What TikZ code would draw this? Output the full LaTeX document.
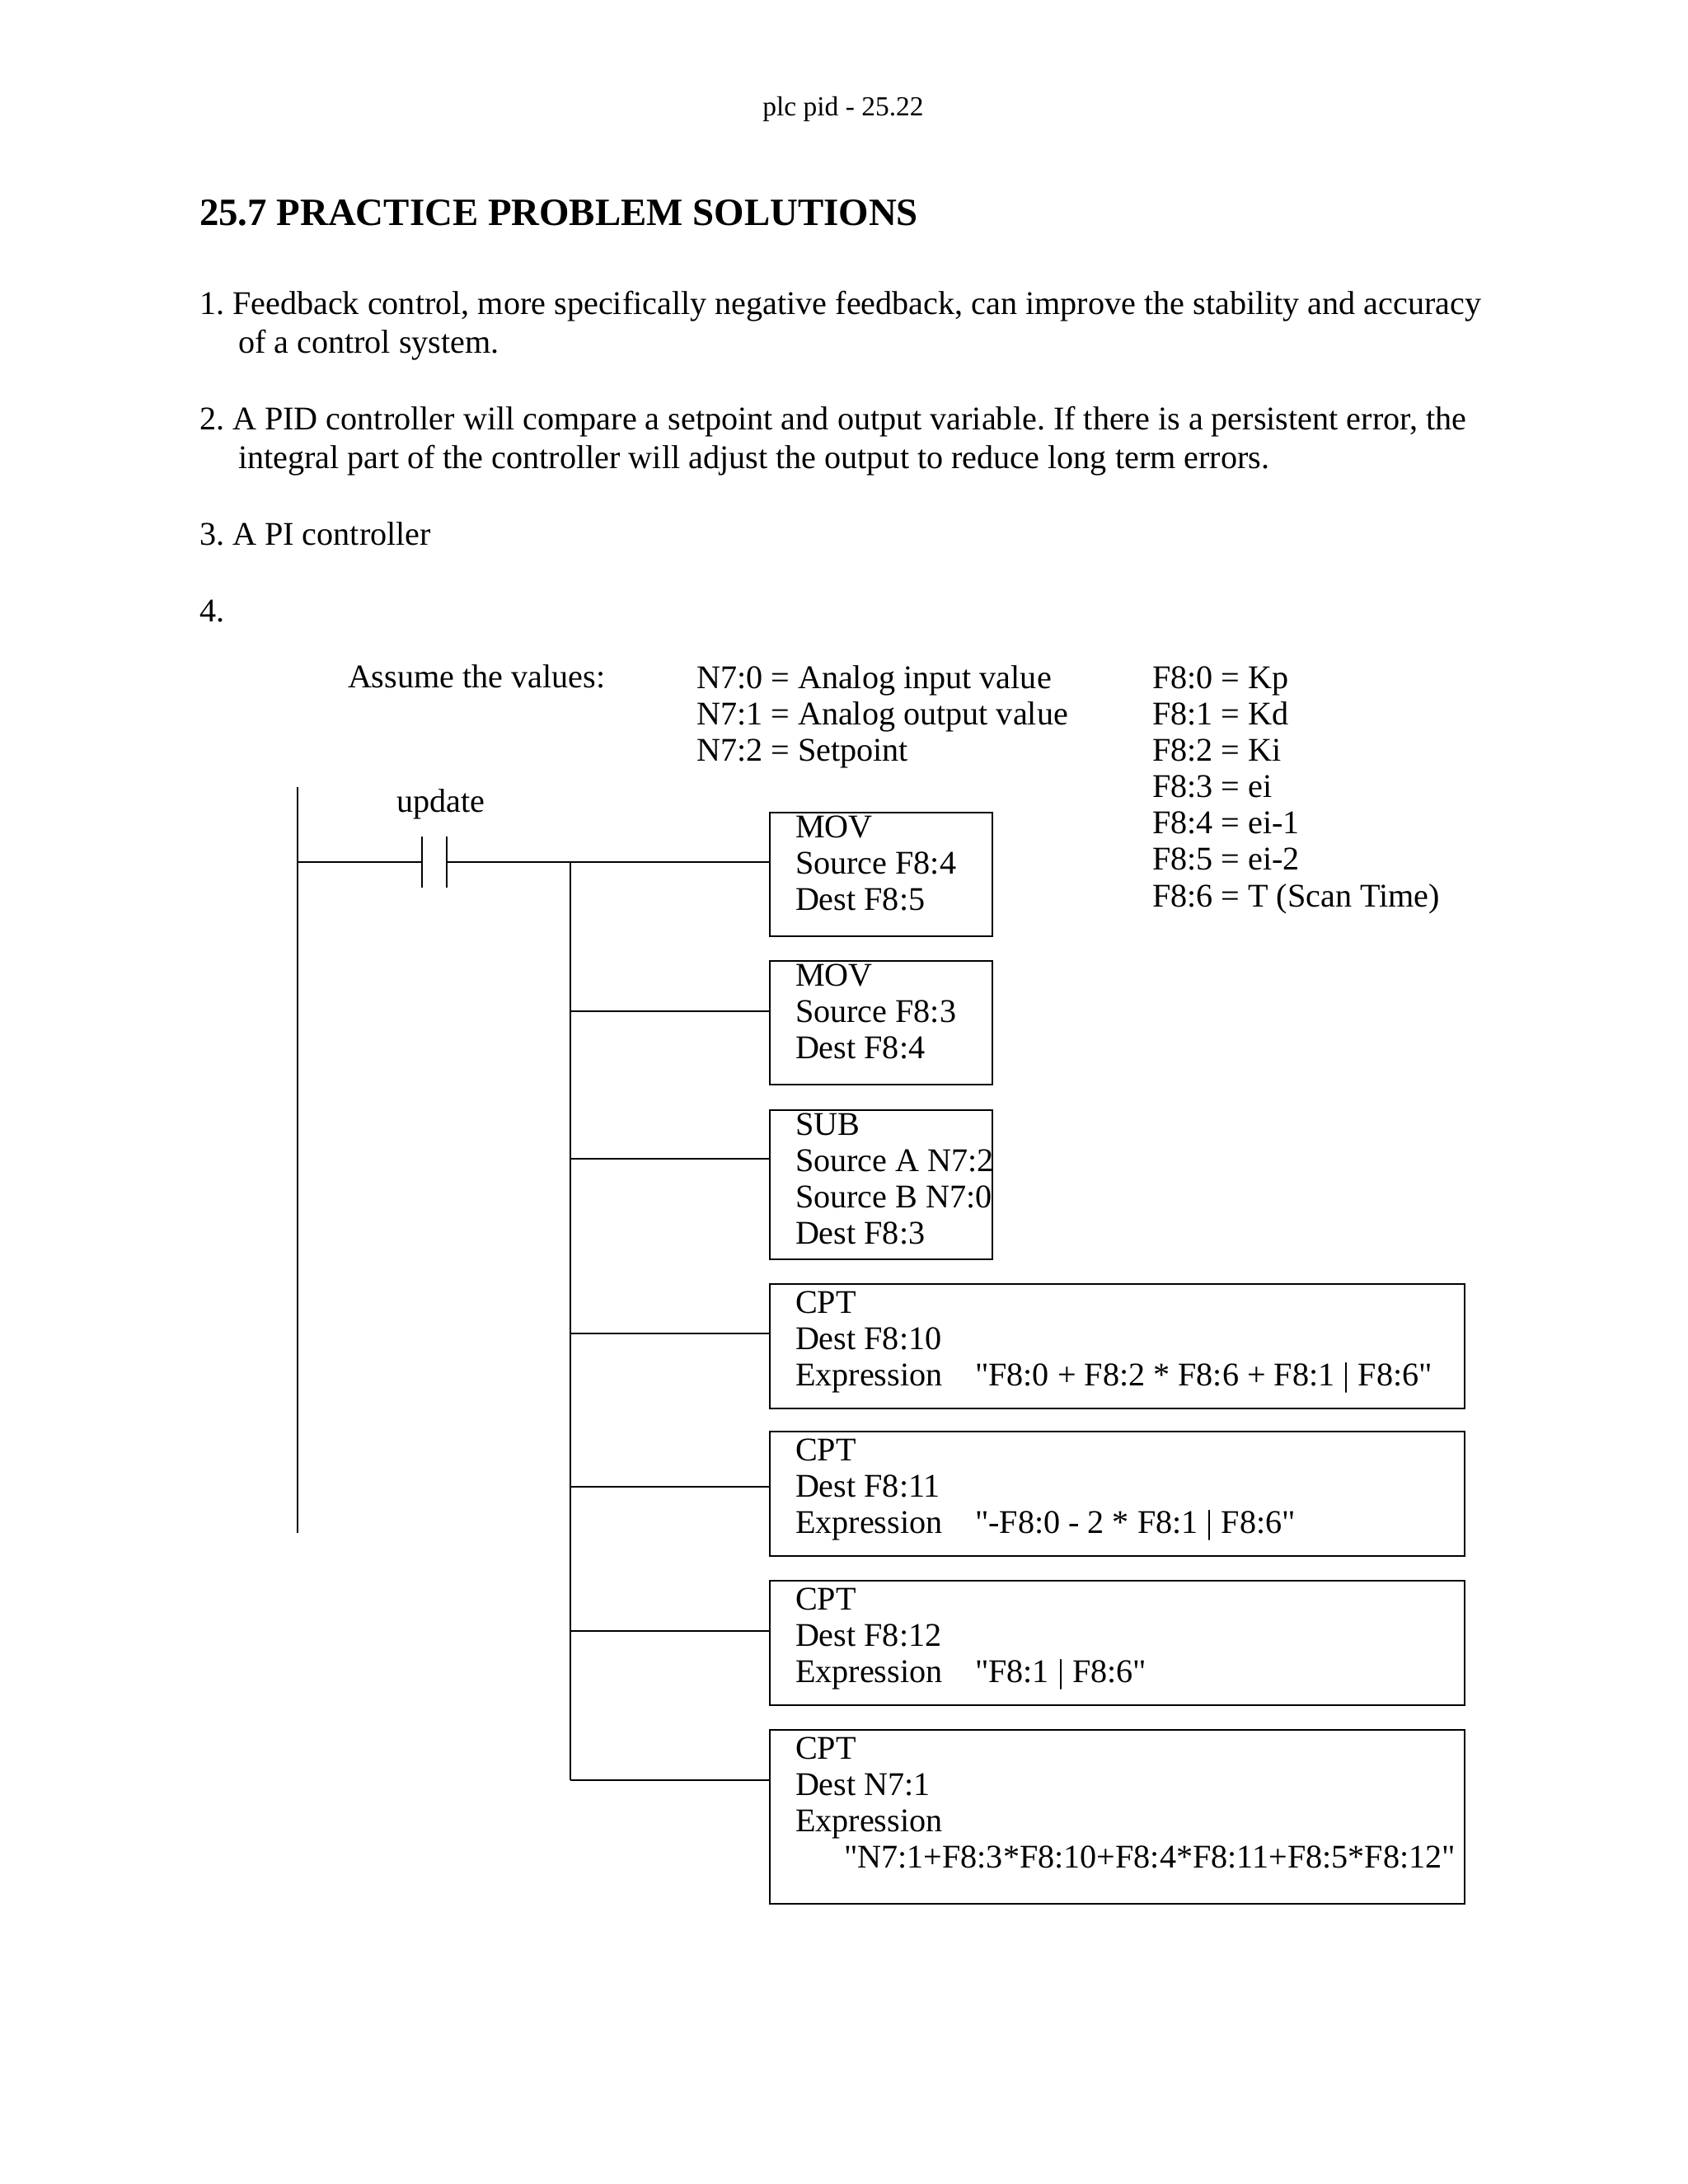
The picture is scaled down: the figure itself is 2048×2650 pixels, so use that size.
\documentclass[tikz,border=0pt]{standalone}
\usepackage{fontspec}
\setmainfont{Liberation Serif}[Ligatures=TeXOff]
\def\pxu{0.298828pt}
\begin{document}
\frenchspacing
\begin{tikzpicture}[x=0.298828pt, y=-0.298828pt, line width=0.6pt,
  txt/.style={anchor=base west, inner sep=0pt, outer sep=0pt, font=\fontsize{12}{13.2}\selectfont},
  box/.style={draw, anchor=north west, inner sep=0pt, outer sep=0pt, minimum width=#1*\pxu},
  box/.default=270]
\fill[white] (0,0) rectangle (2048,2650);
\useasboundingbox (0,0) rectangle (2048,2650);

% header and text
\node[anchor=base, inner sep=0pt, font=\fontsize{10}{12}\selectfont] (hdr) at (1023,140) {plc pid - 25.22};
\node[txt, font=\fontsize{14}{16}\selectfont\bfseries] (title) at (242,273) {25.7 PRACTICE PROBLEM SOLUTIONS};
\node[txt] (q1a) at (242,381) {1. Feedback control, more specifically negative feedback, can improve the stability and accuracy};
\node[txt] (q1b) at (289,428) {of a control system.};
\node[txt] (q2a) at (242,521) {2. A PID controller will compare a setpoint and output variable. If there is a persistent error, the};
\node[txt] (q2b) at (289,568) {integral part of the controller will adjust the output to reduce long term errors.};
\node[txt] (q3) at (242,661) {3. A PI controller};
\node[txt] (q4) at (242,754) {4.};

\node[txt] (assume) at (422,834) {Assume the values:};
\node[txt] (n0) at (845,835) {N7:0 = Analog input value};
\node[txt] (n1) at (845,879) {N7:1 = Analog output value};
\node[txt] (n2) at (845,923) {N7:2 = Setpoint};
\node[txt] (f0) at (1398,835) {F8:0 = Kp};
\node[txt] (f1) at (1398,879) {F8:1 = Kd};
\node[txt] (f2) at (1398,923) {F8:2 = Ki};
\node[txt] (f3) at (1398,967) {F8:3 = ei};
\node[txt] (f4) at (1398,1011) {F8:4 = ei-1};
\node[txt] (f5) at (1398,1055) {F8:5 = ei-2};
\node[txt] (f6) at (1398,1100) {F8:6 = T (Scan Time)};

% ladder rail and contact
\coordinate (railtop) at (361,955);
\coordinate (railbot) at (361,1860);
\draw (railtop) -- (railbot);
\coordinate (r0) at (361,1046);
\coordinate (cl) at (512,1046);
\coordinate (cr) at (542,1046);
\coordinate (clt) at (512,1015);
\coordinate (clb) at (512,1077);
\coordinate (crt) at (542,1015);
\coordinate (crb) at (542,1077);
\draw (clt) -- (clb);
\draw (crt) -- (crb);
\node[anchor=base, inner sep=0pt, font=\fontsize{12}{13.2}\selectfont] (upd) at (535,985) {update};
\draw (r0) -- (cl);

% boxes
\node[box, minimum height=150*\pxu] (b1) at (934,986) {};
\node[box, minimum height=150*\pxu] (b2) at (934,1166) {};
\node[box, minimum height=181*\pxu] (b3) at (934,1347) {};
\node[box=843, minimum height=151*\pxu] (b4) at (934,1558) {};
\node[box=843, minimum height=151*\pxu] (b5) at (934,1737) {};
\node[box=843, minimum height=151*\pxu] (b6) at (934,1918) {};
\node[box=843, minimum height=211*\pxu] (b7) at (934,2099) {};

% branch points
\coordinate (j1) at (692,1046);
\coordinate (j2) at (692,1227);
\coordinate (j3) at (692,1406);
\coordinate (j4) at (692,1618);
\coordinate (j5) at (692,1804);
\coordinate (j6) at (692,1979);
\coordinate (j7) at (692,2160);
\draw (cr) -- (j1);
\draw (j1) -- (j7);
\draw (j1) -- (j1 -| b1.west);
\draw (j2) -- (j2 -| b2.west);
\draw (j3) -- (j3 -| b3.west);
\draw (j4) -- (j4 -| b4.west);
\draw (j5) -- (j5 -| b5.west);
\draw (j6) -- (j6 -| b6.west);
\draw (j7) -- (j7 -| b7.west);

% box texts
\node[txt] (t1a) at (965,1016) {MOV};
\node[txt] (t1b) at (965,1060) {Source F8:4};
\node[txt] (t1c) at (965,1104) {Dest F8:5};

\node[txt] (t2a) at (965,1196) {MOV};
\node[txt] (t2b) at (965,1240) {Source F8:3};
\node[txt] (t2c) at (965,1284) {Dest F8:4};

\node[txt] (t3a) at (965,1377) {SUB};
\node[txt] (t3b) at (965,1421) {Source A N7:2};
\node[txt] (t3c) at (965,1465) {Source B N7:0};
\node[txt] (t3d) at (965,1509) {Dest F8:3};

\node[txt] (t4a) at (965,1593) {CPT};
\node[txt] (t4b) at (965,1637) {Dest F8:10};
\node[txt] (t4c) at (965,1681) {Expression};
\node[txt] (t4d) at (1183,1681) {"F8:0 + F8:2 * F8:6 + F8:1 | F8:6"};

\node[txt] (t5a) at (965,1772) {CPT};
\node[txt] (t5b) at (965,1816) {Dest F8:11};
\node[txt] (t5c) at (965,1860) {Expression};
\node[txt] (t5d) at (1183,1860) {"-F8:0 - 2 * F8:1 | F8:6"};

\node[txt] (t6a) at (965,1953) {CPT};
\node[txt] (t6b) at (965,1997) {Dest F8:12};
\node[txt] (t6c) at (965,2041) {Expression};
\node[txt] (t6d) at (1183,2041) {"F8:1 | F8:6"};

\node[txt] (t7a) at (965,2134) {CPT};
\node[txt] (t7b) at (965,2178) {Dest N7:1};
\node[txt] (t7c) at (965,2222) {Expression};
\node[txt] (t7d) at (1024,2266) {"N7:1+F8:3*F8:10+F8:4*F8:11+F8:5*F8:12"};
\end{tikzpicture}
\end{document}
